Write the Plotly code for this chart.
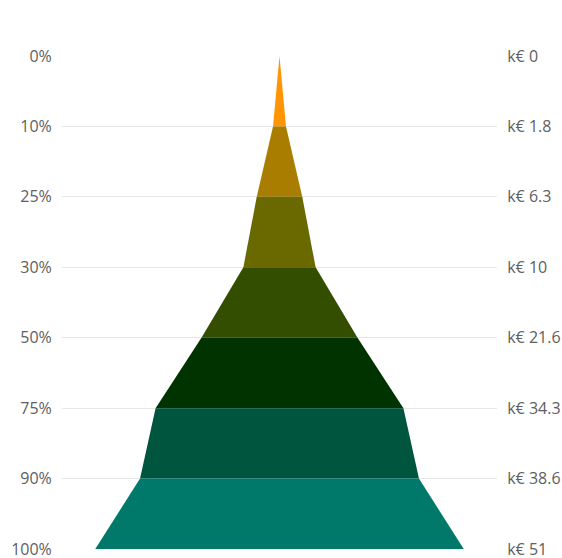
import plotly.graph_objects as go

percent_labels = ["0%", "10%", "25%", "30%", "50%", "75%", "90%", "100%"]
values_keur = [0, 1.8, 6.3, 10, 21.6, 34.3, 38.6, 51]
value_labels = ["k€ 0", "k€ 1.8", "k€ 6.3", "k€ 10", "k€ 21.6", "k€ 34.3", "k€ 38.6", "k€ 51"]
band_colors = ["#FF9406", "#A97E00", "#696900", "#344E00", "#003300", "#00553E", "#00796B"]

fig = go.Figure()
pos = list(range(len(values_keur)))
for i in range(len(values_keur) - 1):
    a, b = values_keur[i] / 2, values_keur[i + 1] / 2
    fig.add_trace(go.Scatter(
        x=[-a, a, b, -b, -a],
        y=[pos[i], pos[i], pos[i + 1], pos[i + 1], pos[i]],
        mode="lines", fill="toself", fillcolor=band_colors[i],
        line=dict(width=0, color=band_colors[i]),
        hoverinfo="skip", showlegend=False,
    ))

# invisible trace for the right axis
fig.add_trace(go.Scatter(x=[0], y=[0], yaxis="y2", mode="markers",
                         marker=dict(opacity=0), showlegend=False, hoverinfo="skip"))

font = dict(family="Open Sans", size=16, color="#606060")
fig.update_layout(
    width=562, height=558,
    margin=dict(l=62, r=65, t=56, b=9),
    plot_bgcolor="white", paper_bgcolor="white",
    font=font,
    xaxis=dict(range=[-30.1, 30.1], visible=False, fixedrange=True, automargin=False),
    yaxis=dict(range=[7, 0], tickvals=pos, ticktext=percent_labels, automargin=False,
               ticklabeloverflow="allow",
               showgrid=True, gridcolor="#e6e6e6", gridwidth=1, zeroline=False,
               showline=False, ticks="outside", ticklen=6, tickcolor="rgba(0,0,0,0)",
               tickfont=font),
    yaxis2=dict(range=[7, 0], tickvals=pos, ticktext=value_labels, overlaying="y",
                automargin=False, ticklabeloverflow="allow",
                side="right", showgrid=False, zeroline=False, showline=False,
                ticks="outside", ticklen=6, tickcolor="rgba(0,0,0,0)", tickfont=font),
)
fig.write_html("out.html")
